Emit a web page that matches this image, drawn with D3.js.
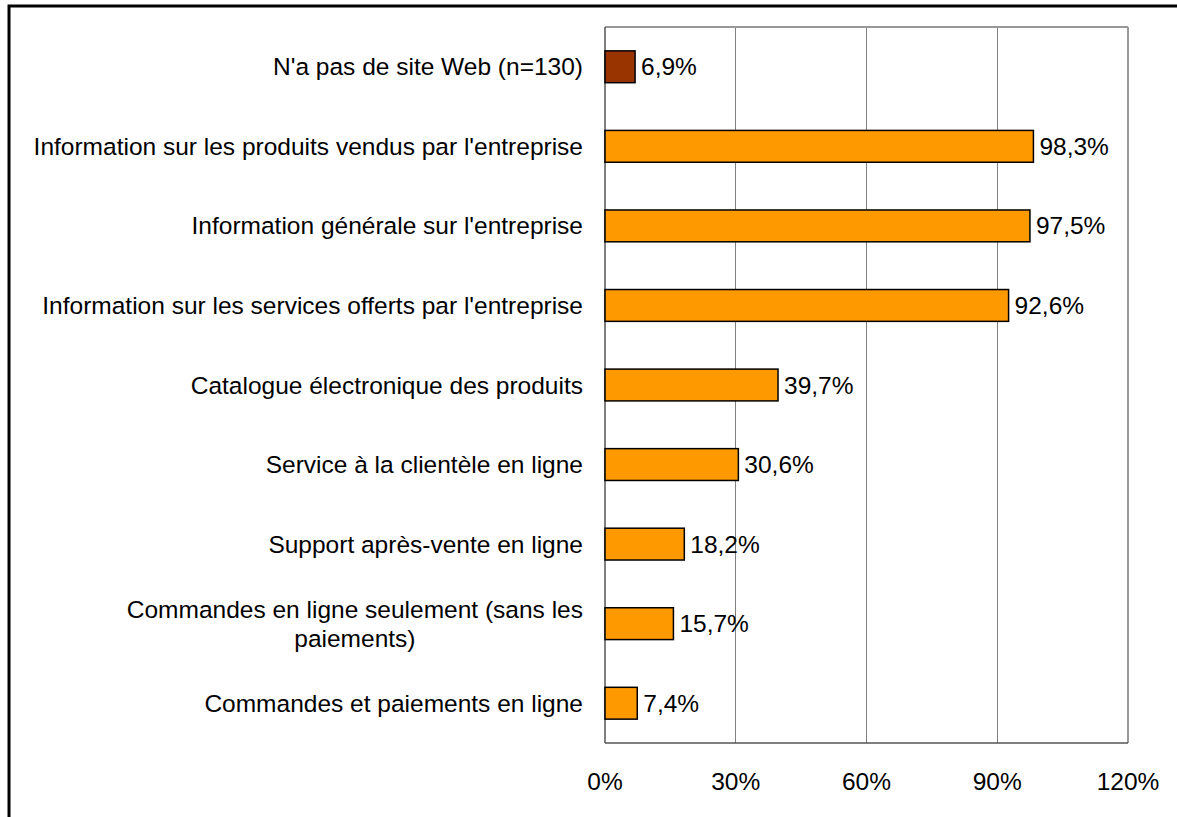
<!DOCTYPE html>
<html>
<head>
<meta charset="utf-8">
<script src="https://cdn.jsdelivr.net/npm/d3@7"></script>
<style>
  body { margin: 0; background: #fff; }
  svg text { font-family: "Liberation Sans", Arial, sans-serif; fill: #000; }
</style>
</head>
<body>
<script>
// categories, top to bottom
var categories = [
    "N'a pas de site Web (n=130)",
    "Information sur les produits vendus par l'entreprise",
    "Information générale sur l'entreprise",
    "Information sur les services offerts par l'entreprise",
    "Catalogue électronique des produits",
    "Service à la clientèle en ligne",
    "Support après-vente en ligne",
    "Commandes en ligne seulement (sans les paiements)",
    "Commandes et paiements en ligne"
];
var values = [6.9, 98.3, 97.5, 92.6, 39.7, 30.6, 18.2, 15.7, 7.4];
var highlight = [true, false, false, false, false, false, false, false, false];
var ticks = [0, 30, 60, 90, 120];

var W = 1177, H = 817;
var plot = { left: 605, right: 1128, top: 27, bottom: 743 };
var fontSize = 24.5;

var svg = d3.select("body").append("svg")
    .attr("width", W)
    .attr("height", H);

// outer frame
svg.append("rect")
    .attr("x", 9).attr("y", 6)
    .attr("width", W + 20).attr("height", H + 20)
    .attr("fill", "none")
    .attr("stroke", "#000")
    .attr("stroke-width", 3);

var xScale = d3.scaleLinear().domain([0, 120]).range([plot.left, plot.right]);
var yScale = d3.scaleBand().domain(categories).range([plot.top, plot.bottom]).paddingInner(0.6).paddingOuter(0.3);

// gridlines
svg.selectAll(".grid")
    .data(ticks.slice(1))
    .enter()
    .append("line")
    .attr("x1", function(d){ return xScale(d); })
    .attr("x2", function(d){ return xScale(d); })
    .attr("y1", plot.top)
    .attr("y2", plot.bottom)
    .attr("stroke", function(d){ return d == 120 ? "#999" : "#808080"; })
    .attr("stroke-width", function(d){ return d == 120 ? 2 : 1; })
    .attr("shape-rendering", "crispEdges");

// top border
svg.append("line")
    .attr("x1", plot.left).attr("x2", plot.right)
    .attr("y1", plot.top).attr("y2", plot.top)
    .attr("stroke", "#999").attr("stroke-width", 2);

// axes lines
svg.append("line")
    .attr("x1", plot.left).attr("x2", plot.left)
    .attr("y1", plot.top).attr("y2", plot.bottom)
    .attr("stroke", "#555").attr("stroke-width", 1.5);
svg.append("line")
    .attr("x1", plot.left).attr("x2", plot.right)
    .attr("y1", plot.bottom).attr("y2", plot.bottom)
    .attr("stroke", "#555").attr("stroke-width", 1.5);

// bars
svg.selectAll(".bar")
    .data(values)
    .enter()
    .append("rect")
    .attr("x", xScale(0))
    .attr("y", function(d, i){ return yScale(categories[i]); })
    .attr("width", function(d){ return xScale(d) - xScale(0); })
    .attr("height", yScale.bandwidth())
    .attr("fill", function(d, i){ return highlight[i] ? "#993300" : "#FF9900"; })
    .attr("stroke", "#000")
    .attr("stroke-width", 1.5);

// value labels
svg.selectAll(".val")
    .data(values)
    .enter()
    .append("text")
    .attr("x", function(d){ return xScale(d) + 6; })
    .attr("y", function(d, i){ return yScale(categories[i]) + yScale.bandwidth() / 2; })
    .attr("dy", "0.35em")
    .attr("font-size", fontSize)
    .text(function(d){ return d.toFixed(1).replace(".", ",") + "%"; });

// category labels (wrap the ones that do not fit)
var labelRight = 583, fitWidth = 565, maxWidth = 470;
categories.forEach(function(c, i) {
    var cy = yScale(c) + yScale.bandwidth() / 2;
    var t = svg.append("text")
        .attr("font-size", fontSize)
        .attr("text-anchor", "end")
        .attr("x", labelRight)
        .text(c);
    var w = t.node().getComputedTextLength();
    if (w <= fitWidth) {
        t.attr("y", cy).attr("dy", "0.35em");
        return;
    }
    var words = c.split(" "), lines = [], cur = "";
    words.forEach(function(wd) {
        var test = cur ? cur + " " + wd : wd;
        t.text(test);
        if (t.node().getComputedTextLength() > maxWidth && cur) {
            lines.push(cur);
            cur = wd;
        } else {
            cur = test;
        }
    });
    lines.push(cur);
    // centred block, right edge aligned
    var widths = lines.map(function(l){
        t.text(l); return t.node().getComputedTextLength();
    });
    t.text(null).attr("text-anchor", "middle");
    var maxW = d3.max(widths), lh = 29;
    lines.forEach(function(l, k) {
        t.append("tspan")
            .attr("x", labelRight - maxW / 2)
            .attr("y", cy + (k - (lines.length - 1) / 2) * lh)
            .attr("dy", "0.35em")
            .text(l);
    });
});

// tick labels
svg.selectAll(".tick")
    .data(ticks)
    .enter()
    .append("text")
    .attr("x", function(d){ return xScale(d); })
    .attr("y", 781)
    .attr("dy", "0.35em")
    .attr("text-anchor", "middle")
    .attr("font-size", fontSize)
    .text(function(d){ return d + "%"; });
</script>
</body>
</html>
